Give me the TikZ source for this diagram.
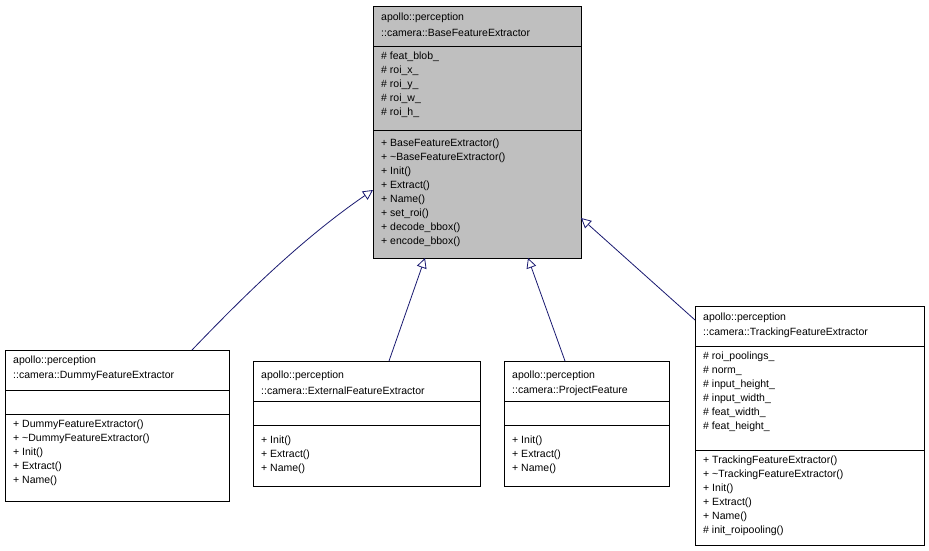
\documentclass[tikz,border=0pt]{standalone}
\usepackage{fontspec}
\setmainfont{Liberation Sans}
\usetikzlibrary{arrows.meta}
\definecolor{edgeblue}{HTML}{191970}
\begin{document}
\begin{tikzpicture}[x=1pt,y=-1pt,
  every node/.style={font=\fontsize{10.5}{12}\selectfont,inner sep=0pt,anchor=west},
  box/.style={draw,line width=0.8pt},
  inherit/.style={edgeblue,line width=0.8pt,{Triangle[open,length=10,width=10]}-}]
\useasboundingbox (0,0) rectangle (929,551);
% base class
\filldraw[box,fill=black!25] (373,6) rectangle (581,258);
\draw[box] (373,46) -- (581,46) (373,130) -- (581,130);
\node (base1) at (381,18) {apollo::perception};
\node (base2) at (381,33) {::camera::BaseFeatureExtractor};
\foreach \t [count=\i from 0] in {\# feat\_blob\_,\# roi\_x\_,\# roi\_y\_,\# roi\_w\_,\# roi\_h\_}
  \node at (381,57+14*\i) {\t};
\foreach \t [count=\i from 0] in {+ BaseFeatureExtractor(),+ \textasciitilde BaseFeatureExtractor(),+ Init(),+ Extract(),+ Name(),+ set\_roi(),+ decode\_bbox(),+ encode\_bbox()}
  \node at (381,144+14*\i) {\t};
% dummy
\draw[box] (5,350) rectangle (229,501);
\draw[box] (5,390) -- (229,390) (5,414) -- (229,414);
\node at (13,361) {apollo::perception};
\node at (13,376) {::camera::DummyFeatureExtractor};
\foreach \t [count=\i from 0] in {+ DummyFeatureExtractor(),+ \textasciitilde DummyFeatureExtractor(),+ Init(),+ Extract(),+ Name()}
  \node at (13,425+14*\i) {\t};
% external
\draw[box] (253,361) rectangle (480,486);
\draw[box] (253,401) -- (480,401) (253,425) -- (480,425);
\node at (261,376) {apollo::perception};
\node at (261,391) {::camera::ExternalFeatureExtractor};
\foreach \t [count=\i from 0] in {+ Init(),+ Extract(),+ Name()}
  \node at (261,441+14*\i) {\t};
% project
\draw[box] (504,361) rectangle (669,486);
\draw[box] (504,401) -- (669,401) (504,425) -- (669,425);
\node at (512,376) {apollo::perception};
\node at (512,391) {::camera::ProjectFeature};
\foreach \t [count=\i from 0] in {+ Init(),+ Extract(),+ Name()}
  \node at (512,441+14*\i) {\t};
% tracking
\draw[box] (695,306) rectangle (924,545);
\draw[box] (695,346) -- (924,346) (695,450) -- (924,450);
\node at (703,318) {apollo::perception};
\node at (703,333) {::camera::TrackingFeatureExtractor};
\foreach \t [count=\i from 0] in {\# roi\_poolings\_,\# norm\_,\# input\_height\_,\# input\_width\_,\# feat\_width\_,\# feat\_height\_}
  \node at (703,357+14*\i) {\t};
\foreach \t [count=\i from 0] in {+ TrackingFeatureExtractor(),+ \textasciitilde TrackingFeatureExtractor(),+ Init(),+ Extract(),+ Name(),\# init\_roipooling()}
  \node at (703,461+14*\i) {\t};
% inheritance
\coordinate (bL) at (373,190);
\coordinate (bB1) at (425,258);
\coordinate (bB2) at (528,258);
\coordinate (bR) at (581,218);
\coordinate (dT) at (192,350);
\coordinate (eT) at (389,361);
\coordinate (pT) at (565,361);
\coordinate (tL) at (695,320);
\draw[inherit] (bL) .. controls (300,240) and (240,300) .. (dT);
\draw[inherit] (bB1) -- (eT);
\draw[inherit] (bB2) -- (pT);
\draw[inherit] (bR) -- (tL);
\end{tikzpicture}
\end{document}
